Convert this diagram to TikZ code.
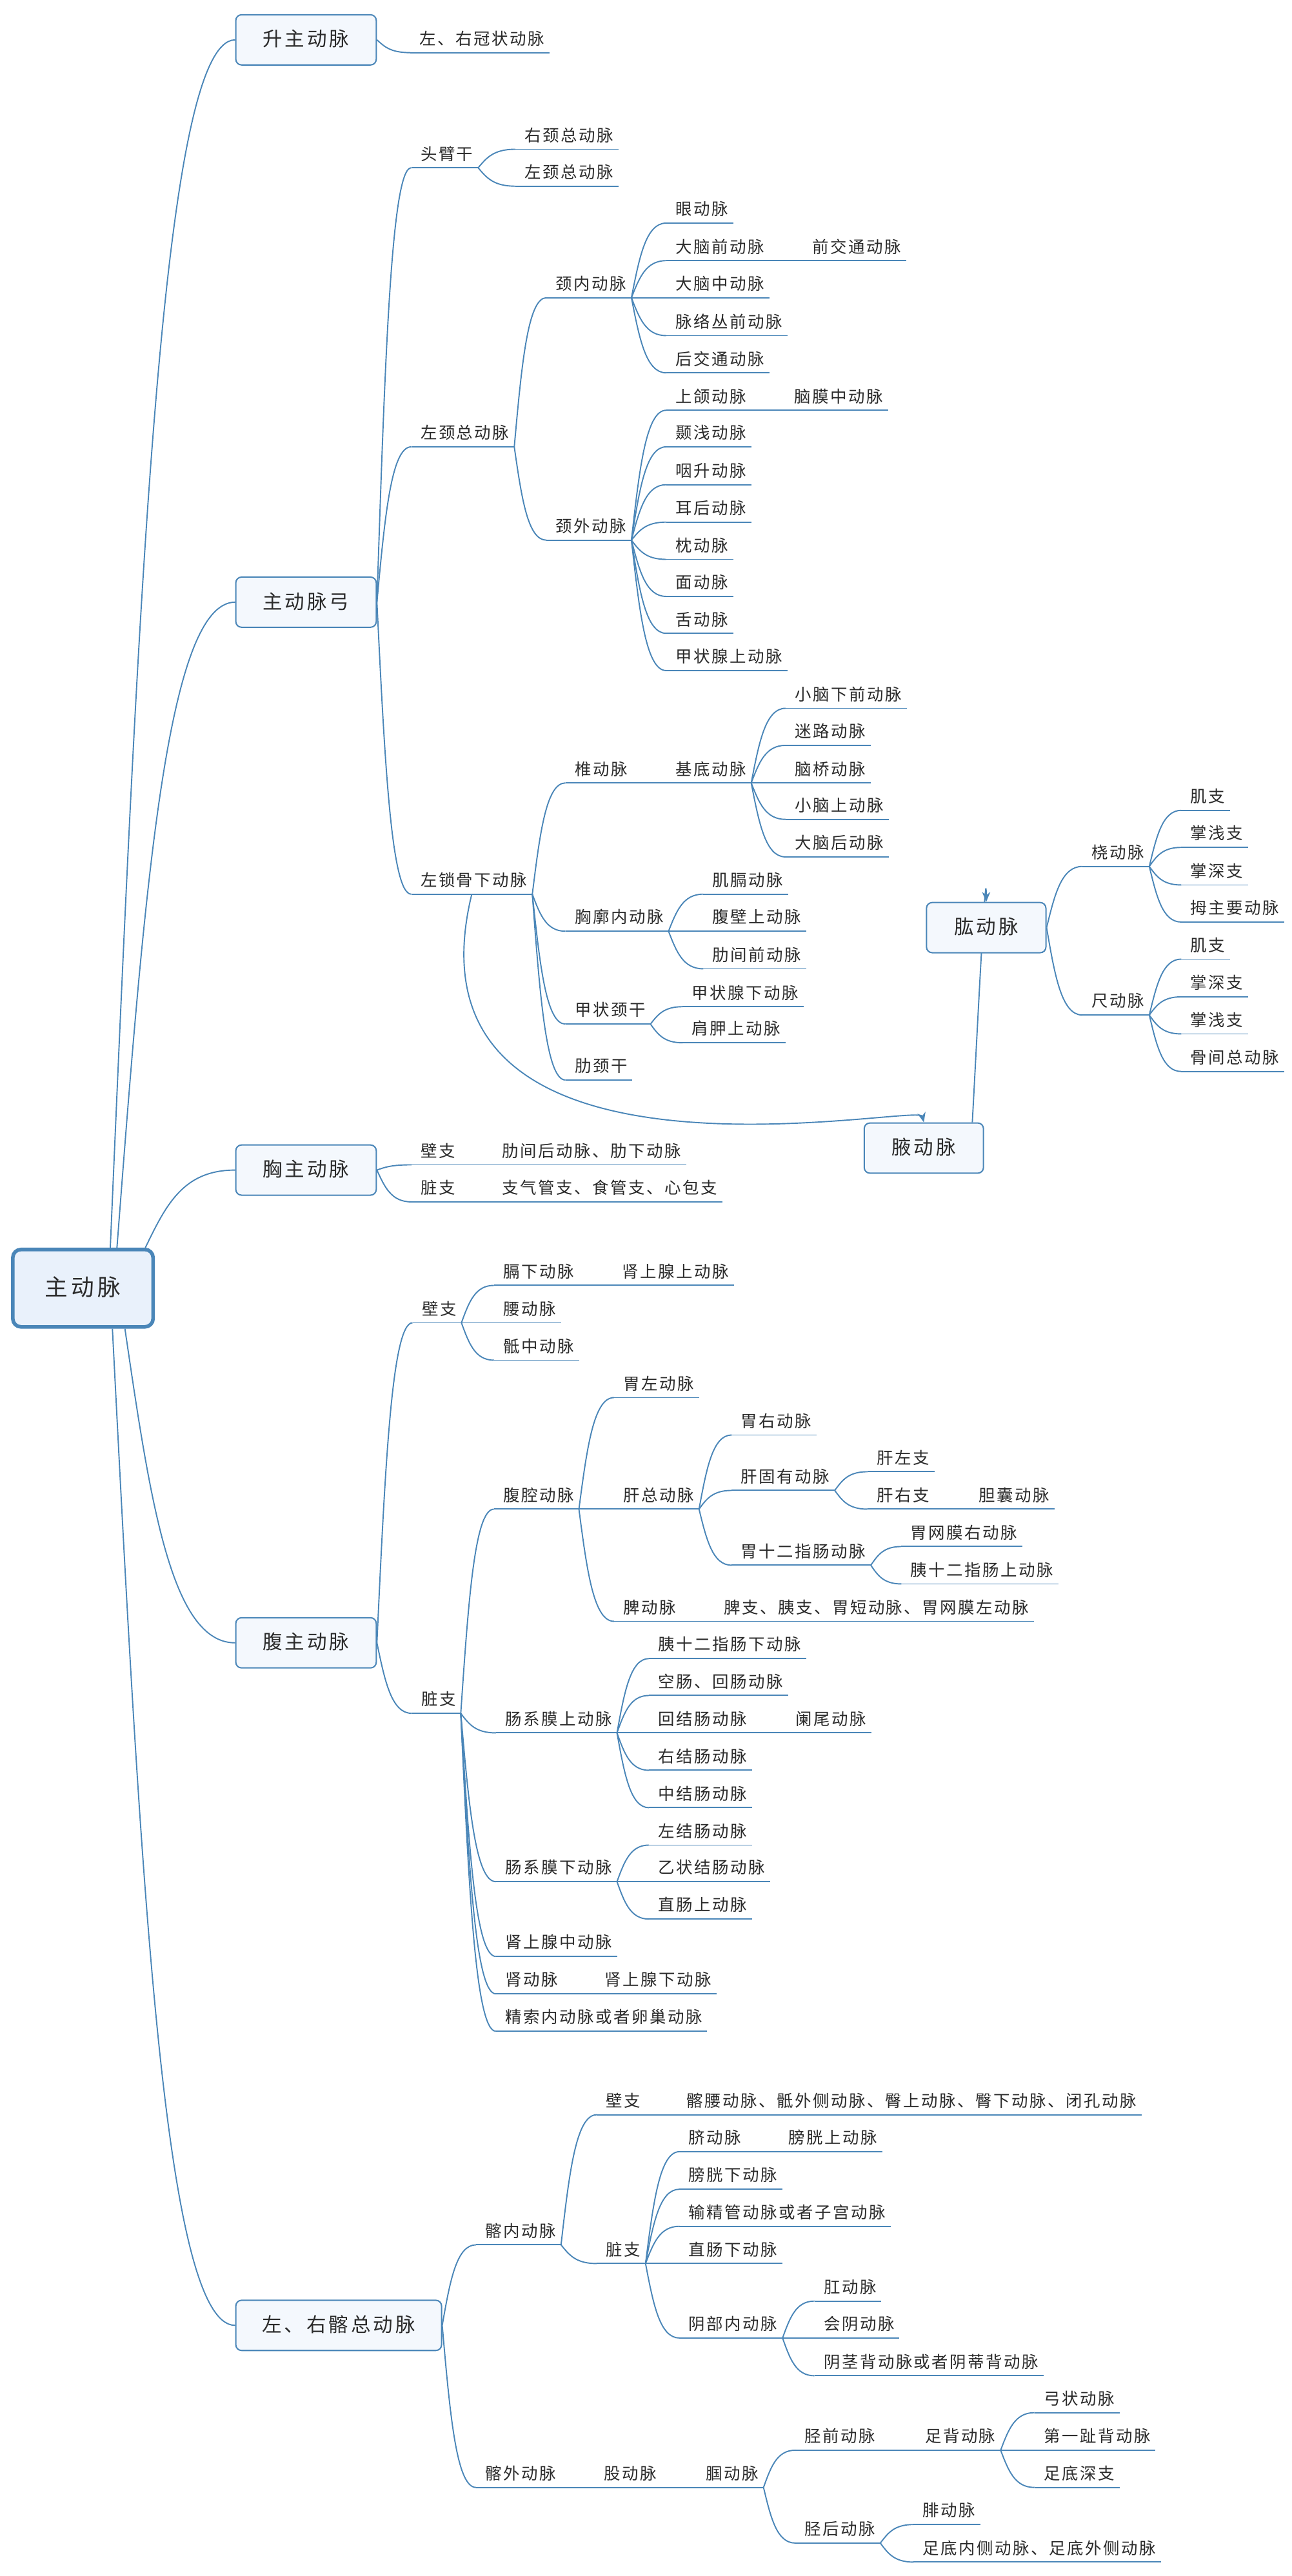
\documentclass[tikz,border=0pt]{standalone}
\usepackage{fontspec}
\usetikzlibrary{arrows.meta,calc}
\newfontfamily\cjkL[LetterSpace=10]{Noto Sans CJK SC}
\newfontfamily\cjkM[LetterSpace=13]{Noto Sans CJK SC}
\newfontfamily\cjkR[LetterSpace=15]{Noto Sans CJK SC}
\definecolor{lc}{HTML}{4A86B8}
\definecolor{boxfill}{HTML}{F4F8FD}
\definecolor{rootfill}{HTML}{E9F1FB}
\definecolor{tc}{HTML}{2B2B2B}
\pgfdeclarelayer{bg}
\pgfsetlayers{bg,main}
\tikzset{
  topic/.style={anchor=south west, inner xsep=0pt, inner ysep=4.6pt, text height=8pt, text depth=0pt,
    font=\cjkL\fontsize{10}{12}\selectfont, text=tc},
  ul/.style={draw=lc, line width=0.75pt},
  conn/.style={draw=lc, line width=0.75pt, to path={let \p1=(\tikztostart), \p2=(\tikztotarget) in
      .. controls ({\x1+0.23*(\x2-\x1)},{\y1+0.55*(\y2-\y1)}) and ({\x1+0.42*(\x2-\x1)},{\y2}) .. (\tikztotarget)}},
  mainbox/.style={draw=lc, line width=0.8pt, fill=boxfill, rounded corners=3.5pt, minimum width=85.6pt,
    minimum height=30.6pt, inner sep=0pt, text height=9.5pt, text depth=1.5pt,
    font=\cjkM\fontsize{12}{14}\selectfont, text=tc},
  rootbox/.style={draw=lc, line width=2.2pt, fill=rootfill, rounded corners=5pt, minimum width=85.5pt,
    minimum height=47.2pt, inner sep=0pt, text height=11.2pt, text depth=1.7pt,
    font=\cjkR\fontsize{14}{16}\selectfont, text=tc},
  rel/.style={draw=lc, line width=0.75pt, -{Stealth[length=6pt,width=5pt]}}
}
\newcommand\topicnode[5]{%
  \pgfmathsetmacro\tpw{11*#4+7.4}%
  \node[topic] (#1) at (#2,#3) {\makebox[\tpw pt][l]{\hspace*{5.5pt}#5}};%
  \draw[ul] (#1.south west) -- (#1.south east);}
\newcommand\links[2]{\foreach \c in {#2} {\draw[conn] (#1) to (\c.south west);}}
\begin{document}
\begin{tikzpicture}[x=1pt,y=-1pt]
\begin{pgfonlayer}{bg}
\fill[white] (0,0) rectangle (787,1570.4);
\end{pgfonlayer}
\useasboundingbox (0,0) rectangle (787,1570.4);

% boxes
\node[rootbox] (root) at (50.55,785.3) {主动脉};
\node[mainbox] (asc) at (186.5,24.3) {升主动脉};
\node[mainbox] (arch) at (186.5,367.1) {主动脉弓};
\node[mainbox] (thor) at (186.5,713.3) {胸主动脉};
\node[mainbox] (abd) at (186.5,1001.5) {腹主动脉};
\node[mainbox, minimum width=125.4pt] (iliac) at (206.4,1417.6) {左、右髂总动脉};
\node[mainbox, minimum width=72.8pt] (brach) at (601,565.5) {肱动脉};
\node[mainbox, minimum width=72.7pt] (axil) at (563,699.9) {腋动脉};

% ascending
\topicnode{a1}{250}{32.1}{7}{左、右冠状动脉}
% arch
\topicnode{tb}{250.6}{102.3}{3}{头臂干}
\topicnode{rcc}{314}{91}{5}{右颈总动脉}
\topicnode{lcca}{314}{113.5}{5}{左颈总动脉}
\topicnode{lcc}{250.6}{272.4}{5}{左颈总动脉}
\topicnode{ica}{333}{181.5}{4}{颈内动脉}
\topicnode{oph}{406}{136}{3}{眼动脉}
\topicnode{aca}{406}{158.9}{5}{大脑前动脉}
\topicnode{acom}{489.5}{158.9}{5}{前交通动脉}
\topicnode{mca}{406}{181.5}{5}{大脑中动脉}
\topicnode{chor}{406}{204.6}{6}{脉络丛前动脉}
\topicnode{pcom}{406}{227.3}{5}{后交通动脉}
\topicnode{eca}{333}{329.3}{4}{颈外动脉}
\topicnode{maxa}{406}{250.1}{4}{上颌动脉}
\topicnode{mma}{478.5}{250.1}{5}{脑膜中动脉}
\topicnode{stemp}{406}{272.4}{4}{颞浅动脉}
\topicnode{apha}{406}{295.5}{4}{咽升动脉}
\topicnode{paur}{406}{318.3}{4}{耳后动脉}
\topicnode{occ}{406}{341}{3}{枕动脉}
\topicnode{fac}{406}{363.6}{3}{面动脉}
\topicnode{ling}{406}{386.1}{3}{舌动脉}
\topicnode{sthy}{406}{408.8}{6}{甲状腺上动脉}
\topicnode{lsc}{250.6}{545.1}{6}{左锁骨下动脉}
\topicnode{vert}{344.6}{477.3}{3}{椎动脉}
\topicnode{basi}{406}{477.3}{4}{基底动脉}
\topicnode{aica}{478.7}{431.8}{6}{小脑下前动脉}
\topicnode{laby}{478.7}{454.4}{4}{迷路动脉}
\topicnode{pont}{478.7}{477.3}{4}{脑桥动脉}
\topicnode{sca}{478.7}{499.5}{5}{小脑上动脉}
\topicnode{pca}{478.7}{522.4}{5}{大脑后动脉}
\topicnode{ita}{344.6}{567.7}{5}{胸廓内动脉}
\topicnode{mph}{428.6}{545.1}{4}{肌膈动脉}
\topicnode{sep}{428.6}{567.7}{5}{腹壁上动脉}
\topicnode{aic}{428.6}{590.6}{5}{肋间前动脉}
\topicnode{thyc}{344.6}{624.3}{4}{甲状颈干}
\topicnode{ithy}{416}{613.7}{6}{甲状腺下动脉}
\topicnode{ssc}{416}{635.7}{5}{肩胛上动脉}
\topicnode{cost}{344.6}{658.4}{3}{肋颈干}
% brachial
\topicnode{rad}{659.6}{528.2}{3}{桡动脉}
\topicnode{ra}{719.9}{494}{2}{肌支}
\topicnode{rb}{719.9}{516.6}{3}{掌浅支}
\topicnode{rc}{719.9}{539.5}{3}{掌深支}
\topicnode{rd}{719.9}{562.1}{5}{拇主要动脉}
\topicnode{uln}{659.6}{618.8}{3}{尺动脉}
\topicnode{ua}{719.9}{584.7}{2}{肌支}
\topicnode{ub}{719.9}{607.7}{3}{掌深支}
\topicnode{uc}{719.9}{630.3}{3}{掌浅支}
\topicnode{ud}{719.9}{653.2}{5}{骨间总动脉}
% thoracic
\topicnode{tw}{250.8}{710.1}{2}{壁支}
\topicnode{twa}{300.4}{710.1}{10}{肋间后动脉、肋下动脉}
\topicnode{tv}{250.8}{732.7}{2}{脏支}
\topicnode{tva}{300.4}{732.7}{12}{支气管支、食管支、心包支}
% abdominal
\topicnode{aw}{251.4}{806.4}{2}{壁支}
\topicnode{ifp}{301}{783.6}{4}{膈下动脉}
\topicnode{sad}{373.5}{783.6}{6}{肾上腺上动脉}
\topicnode{lum}{301}{806.4}{3}{腰动脉}
\topicnode{msa}{301}{829.2}{4}{骶中动脉}
\topicnode{av}{251}{1044.5}{2}{脏支}
\topicnode{cel}{301}{920}{4}{腹腔动脉}
\topicnode{lga}{374.2}{852}{4}{胃左动脉}
\topicnode{cha}{374.2}{920}{4}{肝总动脉}
\topicnode{rga}{445.9}{874.8}{4}{胃右动脉}
\topicnode{pha}{445.9}{908.6}{5}{肝固有动脉}
\topicnode{lhb}{528.6}{897.2}{3}{肝左支}
\topicnode{rhb}{528.6}{920}{3}{肝右支}
\topicnode{cys}{590.7}{920}{4}{胆囊动脉}
\topicnode{gda}{445.9}{954.2}{7}{胃十二指肠动脉}
\topicnode{rge}{549.3}{942.8}{6}{胃网膜右动脉}
\topicnode{spd}{549.3}{965.6}{8}{胰十二指肠上动脉}
\topicnode{spl}{374.2}{988.4}{3}{脾动脉}
\topicnode{spla}{435.4}{988.4}{17}{脾支、胰支、胃短动脉、胃网膜左动脉}
\topicnode{sma}{302.2}{1056.4}{6}{肠系膜上动脉}
\topicnode{ipd}{395.5}{1011.1}{8}{胰十二指肠下动脉}
\topicnode{jej}{395.5}{1033.6}{7}{空肠、回肠动脉}
\topicnode{ilc}{395.5}{1056.4}{5}{回结肠动脉}
\topicnode{app}{479.2}{1056.4}{4}{阑尾动脉}
\topicnode{rca}{395.5}{1079.2}{5}{右结肠动脉}
\topicnode{mcol}{395.5}{1102}{5}{中结肠动脉}
\topicnode{ima}{302.2}{1147.1}{6}{肠系膜下动脉}
\topicnode{lcol}{395.5}{1124.8}{5}{左结肠动脉}
\topicnode{sig}{395.5}{1147.1}{6}{乙状结肠动脉}
\topicnode{sre}{395.5}{1169.9}{5}{直肠上动脉}
\topicnode{mad}{302.2}{1192.7}{6}{肾上腺中动脉}
\topicnode{ren}{302.2}{1215.5}{3}{肾动脉}
\topicnode{iad}{362.9}{1215.5}{6}{肾上腺下动脉}
\topicnode{gon}{302.2}{1238.3}{11}{精索内动脉或者卵巢动脉}
% iliac
\topicnode{iia}{290.1}{1368.5}{4}{髂内动脉}
\topicnode{iw}{363.6}{1289.2}{2}{壁支}
\topicnode{iwa}{412.9}{1289.2}{25}{髂腰动脉、骶外侧动脉、臀上动脉、臀下动脉、闭孔动脉}
\topicnode{iv}{363.6}{1379.9}{2}{脏支}
\topicnode{umb}{414.1}{1311.7}{3}{脐动脉}
\topicnode{svs}{474.9}{1311.7}{5}{膀胱上动脉}
\topicnode{ivs}{414.1}{1334.6}{5}{膀胱下动脉}
\topicnode{dud}{414.1}{1357.2}{11}{输精管动脉或者子宫动脉}
\topicnode{mre}{414.1}{1379.9}{5}{直肠下动脉}
\topicnode{ipu}{414.1}{1425.3}{5}{阴部内动脉}
\topicnode{ana}{496.3}{1402.8}{3}{肛动脉}
\topicnode{per}{496.3}{1425.3}{4}{会阴动脉}
\topicnode{dor}{496.3}{1448.3}{12}{阴茎背动脉或者阴蒂背动脉}
\topicnode{eia}{290.1}{1516.4}{4}{髂外动脉}
\topicnode{fem}{362.5}{1516.4}{3}{股动脉}
\topicnode{pop}{424.5}{1516.4}{3}{腘动脉}
\topicnode{ata}{484.7}{1493.7}{4}{胫前动脉}
\topicnode{dpa}{558}{1493.7}{4}{足背动脉}
\topicnode{arca}{630.4}{1470.8}{4}{弓状动脉}
\topicnode{fdm}{630.4}{1493.7}{6}{第一趾背动脉}
\topicnode{dpl}{630.4}{1516.4}{4}{足底深支}
\topicnode{pta}{484.7}{1550.3}{4}{胫后动脉}
\topicnode{fib}{556.8}{1539}{3}{腓动脉}
\topicnode{plan}{556.8}{1561.9}{13}{足底内侧动脉、足底外侧动脉}

% root connectors
\begin{pgfonlayer}{bg}
\draw[conn] (root.56) to (asc.west);
\draw[conn] (root.50) to (arch.west);
\draw[conn] (root.33) to (thor.west);
\draw[conn] (root.-44) to (abd.west);
\draw[conn] (root.-54) to (iliac.west);
\draw[rel] (axil.28) .. controls (596,620) and (601,520) .. (brach.north);
\end{pgfonlayer}

% box connectors
\links{asc.east}{a1}
\links{arch.east}{tb,lcc,lsc}
\links{thor.east}{tw,tv}
\links{abd.east}{aw,av}
\links{iliac.east}{iia,eia}
\links{brach.east}{rad,uln}
% topic connectors
\links{tb.south east}{rcc,lcca}
\links{lcc.south east}{ica,eca}
\links{ica.south east}{oph,aca,mca,chor,pcom}
\links{aca.south east}{acom}
\links{eca.south east}{maxa,stemp,apha,paur,occ,fac,ling,sthy}
\links{maxa.south east}{mma}
\links{lsc.south east}{vert,ita,thyc,cost}
\links{vert.south east}{basi}
\links{basi.south east}{aica,laby,pont,sca,pca}
\links{ita.south east}{mph,sep,aic}
\links{thyc.south east}{ithy,ssc}
\links{rad.south east}{ra,rb,rc,rd}
\links{uln.south east}{ua,ub,uc,ud}
\links{tw.south east}{twa}
\links{tv.south east}{tva}
\links{aw.south east}{ifp,lum,msa}
\links{ifp.south east}{sad}
\links{av.south east}{cel,sma,ima,mad,ren,gon}
\links{cel.south east}{lga,cha,spl}
\links{cha.south east}{rga,pha,gda}
\links{pha.south east}{lhb,rhb}
\links{rhb.south east}{cys}
\links{gda.south east}{rge,spd}
\links{spl.south east}{spla}
\links{sma.south east}{ipd,jej,ilc,rca,mcol}
\links{ilc.south east}{app}
\links{ima.south east}{lcol,sig,sre}
\links{ren.south east}{iad}
\links{iia.south east}{iw,iv}
\links{iw.south east}{iwa}
\links{iv.south east}{umb,ivs,dud,mre,ipu}
\links{umb.south east}{svs}
\links{ipu.south east}{ana,per,dor}
\links{eia.south east}{fem}
\links{fem.south east}{pop}
\links{pop.south east}{ata,pta}
\links{ata.south east}{dpa}
\links{dpa.south east}{arca,fdm,dpl}
\links{pta.south east}{fib,plan}

% relationship
\draw[rel] (lsc.south) .. controls (240,740) and (560,672) .. (axil.north);
\end{tikzpicture}
\end{document}
